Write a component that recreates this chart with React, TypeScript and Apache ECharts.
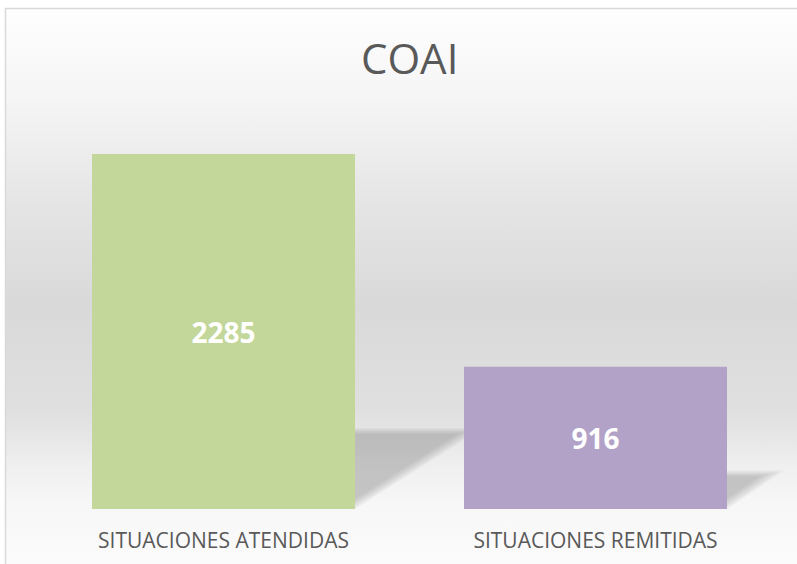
import React, { useEffect, useRef } from "react";
import * as echarts from "echarts";

const categories = ["SITUACIONES ATENDIDAS", "SITUACIONES REMITIDAS"];
const values = [2285, 916];
const barColors = ["#c4d79b", "#b3a2c7"];
const titleText = "COAI";

export default function App() {
  const ref = useRef<HTMLDivElement>(null);
  useEffect(() => {
    if (!ref.current) return;
    const chart = echarts.init(ref.current, null, { renderer: "svg" });
    const FONT = "'Open Sans', sans-serif";
    const BAR_W = 263;
    const option: any = {
      animation: false,
      backgroundColor: "#ffffff",
      title: {
        text: titleText,
        left: 356,
        top: 31,
        textStyle: { fontSize: 42, fontWeight: "normal", color: "#595959", fontFamily: FONT },
      },
      graphic: [
        {
          type: "rect",
          z: -10,
          silent: true,
          shape: { x: 5.5, y: 8.5, width: 795, height: 570 },
          style: {
            fill: new echarts.graphic.LinearGradient(0, 0, 0, 1, [
              { offset: 0, color: "#fefefe" },
              { offset: 0.16, color: "#f5f5f5" },
              { offset: 0.34, color: "#e5e5e5" },
              { offset: 0.52, color: "#d9d9d9" },
              { offset: 0.7, color: "#dfdfdf" },
              { offset: 0.75, color: "#e6e6e6" },
              { offset: 0.8, color: "#efefef" },
              { offset: 0.87, color: "#f7f7f7" },
              { offset: 1, color: "#fcfcfc" },
            ]),
            stroke: "#d9d9d9",
            lineWidth: 1.5,
          },
        },
      ],
      grid: { left: 37.5, right: 15.5, top: 120.6, bottom: 55, containLabel: false },
      xAxis: {
        type: "category",
        data: categories,
        axisLine: { show: false },
        axisTick: { show: false },
        axisLabel: { color: "#595959", fontSize: 21, margin: 20, fontFamily: FONT },
      },
      yAxis: {
        type: "value",
        min: 0,
        max: 2500,
        show: false,
        splitLine: { show: false },
      },
      series: [
        {
          type: "custom",
          z: 1,
          silent: true,
          data: values.map((v, i) => [i, v]),
          renderItem: (params: any, api: any) => {
            const idx = api.value(0);
            const val = api.value(1);
            const top = api.coord([idx, val]);
            const base = api.coord([idx, 0]);
            const h = base[1] - top[1];
            const L = base[0] - BAR_W / 2;
            const R = base[0] + BAR_W / 2;
            const B = base[1];
            const dx = 0.33 * h + 10;
            const dy = 0.2 * h + 10;
            const children: any[] = [];
            for (let k = 0; k < 6; k++) {
              const s = k * 5;
              const t = k * 1.2;
              children.push({
                type: "polygon",
                shape: {
                  points: [
                    [L, B],
                    [R - s * 0.6, B],
                    [R + dx - s, B - dy + t],
                    [L + dx, B - dy + t],
                  ],
                },
                style: { fill: "rgba(115,115,115,0.075)" },
              });
            }
            return { type: "group", children };
          },
        },
        {
          type: "bar",
          z: 3,
          barWidth: BAR_W,
          data: values.map((v, i) => ({ value: v, itemStyle: { color: barColors[i] } })),
          label: {
            show: true,
            position: "inside",
            color: "#ffffff",
            fontWeight: "bold",
            fontSize: 28,
            fontFamily: FONT,
          },
        },
      ],
    };
    chart.setOption(option);
    return () => chart.dispose();
  }, []);
  return (
    <div
      ref={ref}
      style={{ position: "fixed", left: 0, top: 0, width: 797, height: 564 }}
    />
  );
}
